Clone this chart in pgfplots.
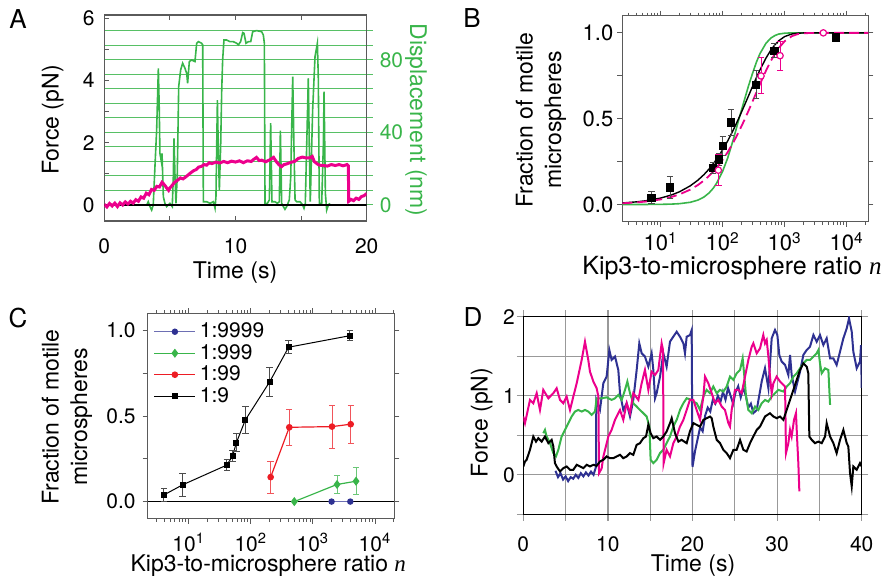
\documentclass[border=0pt]{standalone}
\usepackage{fontspec}
\setmainfont{TeX Gyre Heros}
\newfontfamily\timesit{Liberation Serif}
\usepackage{pgfplots}
\pgfplotsset{compat=1.18}
\definecolor{mag}{RGB}{236,0,140}
\definecolor{grn}{RGB}{57,181,74}
\definecolor{nvy}{RGB}{46,49,146}
\definecolor{red1}{RGB}{237,28,36}
\definecolor{frm}{RGB}{90,90,90}
\pgfplotsset{
  pan/.style={scale only axis, anchor=south west,
    /pgf/number format/assume math mode=true,
    tick label style={font=\fontsize{10.5}{12}\selectfont},
    major tick length=2.5pt, minor tick length=1.5pt,
    every tick/.style={line width=0.45pt},
  },
}
\tikzset{lab/.style={font=\fontsize{11.5}{14.2}\selectfont, inner sep=0pt, align=center}}
\begin{document}
\begin{tikzpicture}
\useasboundingbox (0,0) rectangle (443.5pt,-290.5pt);
\node[font=\fontsize{13}{15}\selectfont] at (9pt,-9.5pt) {A};
\node[font=\fontsize{13}{15}\selectfont] at (236pt,-9pt) {B};
\node[font=\fontsize{13}{15}\selectfont] at (9pt,-159pt) {C};
\node[font=\fontsize{13}{15}\selectfont] at (236.5pt,-158.5pt) {D};
% axis labels
\node[lab, rotate=90] at (26.35pt,-60pt) {Force (pN)};
\node[lab] at (117.5pt,-136.5pt) {Time (s)};
\node[lab, rotate=-90, text=grn] at (208pt,-60pt) {Displacement (nm)};
\node[lab, rotate=90] at (270.45pt,-60pt) {Fraction of motile\\microspheres};
\node[lab, font=\fontsize{12.5}{14.2}\selectfont] at (366pt,-134pt) {Kip3-to-microsphere ratio {\timesit\itshape n}};
\node[lab, rotate=90] at (33.5pt,-208.5pt) {Fraction of motile\\microspheres};
\node[lab] at (134.15pt,-283pt) {Kip3-to-microsphere ratio {\timesit\itshape n}};
\node[lab, rotate=90] at (240.85pt,-211.25pt) {Force (pN)};
\node[lab] at (346.5pt,-283pt) {Time (s)};

% ---------------- Panel A: displacement (right axis)
\begin{axis}[pan, at={(52.15pt,-110.5pt)}, width=131.2pt, height=103pt,
  xmin=0, xmax=20, ymin=-8.83, ymax=104.8,
  axis x line=none, axis y line*=right, axis line style={draw=none},
  ytick={0,8,...,96}, yticklabels={0,,,,,40,,,,,80,,},
  ymajorgrids, major grid style={grn!85, line width=0.5pt},
  tick align=outside, major tick length=3pt,
  y tick style={grn!85, line width=0.5pt},
  yticklabel style={text=grn},
]
\addplot[grn, line width=0.8pt] coordinates {
(3.23,0) (3.35,1.8) (3.48,-0.9) (3.61,-2.8) (3.73,0) (3.86,21.1) (3.99,41.4) (4.12,75.4) (4.19,52.4) (4.24,28.5) (4.35,23.9) (4.40,28.5) (4.50,4.6) (4.62,0.9) (4.75,-0.9) (5.0,0.9) (5.18,-0.9) (5.26,15.6) (5.31,36.8) (5.39,15.6) (5.46,0.9) (5.56,15.6) (5.67,65.3) (5.82,74.5) (5.97,78.2) (6.15,75.4) (6.28,72.6) (6.35,67.1) (6.48,79.1) (6.66,80.0) (6.91,79.1) (7.04,89.2) (7.17,90.1) (7.42,89.2) (7.50,88.3) (7.55,1.8) (7.80,1.8) (8.06,0.9) (8.31,1.8) (8.44,-1.8) (8.51,4.6) (8.62,57.9) (8.69,30.3) (8.77,8.3) (8.87,33.1) (8.95,63.4) (9.02,80.0) (9.12,91.0) (9.33,91.0) (9.58,90.1) (9.83,90.1) (10.09,89.2) (10.22,88.3) (10.39,90.1) (10.55,95.1) (10.65,94.7) (10.8,89.2) (10.98,90.1) (11.16,90.1) (11.31,95.6) (11.61,96.2) (11.99,95.6) (12.12,93.8) (12.2,89.2) (12.25,0.9) (12.43,0.9) (12.58,2.8) (12.68,45.1) (12.78,1.8) (13.01,1.8) (13.19,0.9) (13.34,1.8) (13.42,41.0) (13.52,0.9) (13.65,-0.9) (13.77,-2.4) (13.9,-0.9) (14.1,2.8) (14.21,15.6) (14.36,70.8) (14.46,30.3) (14.54,2.8) (14.66,1.8) (14.92,1.8) (15.12,0) (15.22,-1.8) (15.32,0.9) (15.43,34.0) (15.55,69.9) (15.63,30) (15.7,1.8) (15.88,52.4) (16.06,81.8) (16.24,89.2) (16.31,70.8) (16.39,0.9) (16.57,0.9) (16.7,34.0) (16.75,62.5) (16.85,6.4) (16.95,-2.8) (17.08,0) (17.2,0.9)
};
\end{axis}
% ---------------- Panel A: force
\begin{axis}[pan, at={(52.15pt,-110.5pt)}, width=131.2pt, height=103pt,
  xmin=0, xmax=20, ymin=-0.514, ymax=6.107,
  axis line style={frm, line width=0.6pt}, tick style={frm},
  xtick={0,5,...,20}, xticklabels={0,,10,,20}, xtick pos=both,
  ytick={0,1,...,6}, yticklabels={0,,2,,4,,6}, ytick pos=left,
  tick align=inside,
  xticklabel style={inner sep=1pt, yshift=-7.5pt}, yticklabel style={xshift=-1.3pt},
]
\addplot[black, line width=0.6pt] coordinates {(0,0) (20,0)};
\addplot[mag, line width=1.5pt] coordinates {
(0,0.02) (0.2,-0.06) (0.4,0.05) (0.6,-0.03) (0.8,0.06) (1.0,-0.05) (1.2,0.07) (1.4,0.0) (1.6,0.1) (1.8,0.03) (2.0,0.12) (2.2,0.06) (2.4,0.17) (2.6,0.12) (2.8,0.26) (3.0,0.22) (3.2,0.38) (3.4,0.33) (3.6,0.50) (3.8,0.47) (4.0,0.60) (4.2,0.58) (4.4,0.73) (4.6,0.64) (4.75,0.55) (4.9,0.47) (5.0,0.55) (5.15,0.62) (5.3,0.70) (5.45,0.76) (5.6,0.80) (5.8,0.87) (6.0,0.84) (6.2,0.90) (6.4,0.97) (6.6,1.04) (6.8,1.10) (7.0,1.14) (7.2,1.22) (7.4,1.24) (7.6,1.30) (7.8,1.28) (8.0,1.36) (8.2,1.33) (8.5,1.38) (8.8,1.35) (9.1,1.40) (9.4,1.36) (9.7,1.41) (10.0,1.38) (10.3,1.42) (10.6,1.36) (10.9,1.42) (11.2,1.40) (11.4,1.47) (11.6,1.53) (11.8,1.43) (12.0,1.44) (12.3,1.39) (12.6,1.45) (12.9,1.53) (13.1,1.40) (13.3,1.30) (13.5,1.23) (13.7,1.30) (13.9,1.32) (14.2,1.37) (14.5,1.40) (14.8,1.50) (15.1,1.54) (15.4,1.51) (15.7,1.52) (15.85,1.56) (16.0,1.40) (16.2,1.33) (16.4,1.28) (16.7,1.27) (17.0,1.25) (17.3,1.30) (17.6,1.27) (17.9,1.30) (18.2,1.26) (18.5,1.30) (18.6,1.26) (18.63,0.12) (18.8,0.18) (19.0,0.14) (19.2,0.22) (19.4,0.18) (19.6,0.27) (19.8,0.30) (20.0,0.37)
};
\end{axis}

% ---------------- Panel B
\begin{axis}[pan, xmode=log, at={(311.15pt,-110.85pt)}, width=123pt, height=103pt,
  xmin=2.4, xmax=22300, ymin=-0.1, ymax=1.1,
  axis line style={frm, line width=0.6pt}, tick style={frm},
  tick label style={font=\fontsize{11}{12}\selectfont},
  tick align=outside, xtick pos=both, ytick pos=both,
  xtick={10,100,1000,10000},
  xticklabels={10\textsuperscript{1},10\textsuperscript{2},10\textsuperscript{3},10\textsuperscript{4}},
  minor xtick={3,4,5,6,7,8,9,20,30,40,50,60,70,80,90,200,300,400,500,600,700,800,900,2000,3000,4000,5000,6000,7000,8000,9000,20000},
  ytick={0,0.25,0.5,0.75,1}, yticklabels={0.0,,0.5,,1.0},
  xticklabel style={inner sep=1pt, yshift=-1.5pt}, yticklabel style={xshift=1.5pt},
]
\addplot[grn, line width=0.8pt] coordinates {
(2.4,0.0001) (4,0.0002) (6,0.0004) (10,0.001) (15,0.0025) (20,0.005) (30,0.013) (40,0.026) (50,0.044) (60,0.067) (70,0.094) (80,0.125) (100,0.195) (120,0.27) (150,0.385) (180,0.49) (220,0.60) (260,0.69) (300,0.76) (350,0.83) (400,0.88) (500,0.94) (600,0.97) (700,0.985) (800,0.993) (1000,0.998) (1300,1.0) (3000,1.0) (22300,1.0)
};
\addplot[black, line width=0.7pt] coordinates {
(2.4,0.0092) (4,0.0153) (6,0.0228) (10,0.0377) (15,0.0561) (20,0.0740) (30,0.1090) (40,0.1426) (50,0.1749) (60,0.2061) (70,0.2360) (80,0.2649) (100,0.3193) (120,0.3697) (150,0.4384) (180,0.4996) (220,0.5710) (260,0.6321) (300,0.6846) (350,0.7398) (400,0.7853) (500,0.8538) (600,0.9005) (700,0.9323) (800,0.9539) (1000,0.9786) (1300,0.9933) (1600,0.9979) (2000,0.9995) (3000,1.0) (22300,1.0)
};
\addplot[mag, line width=0.9pt, dash pattern=on 5pt off 2.5pt] coordinates {
(2.4,0.0072) (4,0.0120) (6,0.0180) (10,0.0298) (15,0.0444) (20,0.0588) (30,0.0869) (40,0.1142) (50,0.1406) (60,0.1662) (70,0.1912) (80,0.2153) (100,0.2614) (120,0.3048) (150,0.3652) (180,0.4204) (220,0.4866) (260,0.5452) (300,0.5971) (350,0.6538) (400,0.7024) (500,0.7802) (600,0.8377) (700,0.8801) (800,0.9114) (1000,0.9517) (1300,0.9805) (1600,0.9922) (2000,0.9977) (3000,0.9999) (22300,1.0)
};
\addplot[only marks, mark=square*, mark size=1.8pt, black,
  error bars/.cd, y dir=both, y explicit,
  error bar style={black!70, line width=0.5pt},
  error mark options={rotate=90, mark size=1.6pt, black!70, line width=0.5pt}]
coordinates {
(7.06,0.039) +- (0,0.035)
(14.2,0.10) +- (0,0.065)
(69,0.212) +- (0,0.03)
(87,0.263) +- (0,0.035)
(100,0.341) +- (0,0.055)
(136,0.478) +- (0,0.075)
(345,0.698) +- (0,0.08)
(681,0.896) +- (0,0.04)
(6730,0.973) +- (0,0.02)
};
\addplot[only marks, mark=*, mark size=1.6pt, mag, mark options={fill=white, line width=0.6pt},
  error bars/.cd, y dir=both, y explicit,
  error bar style={mag, line width=0.5pt},
  error mark options={rotate=90, mark size=1.6pt, mag, line width=0.5pt}]
coordinates {
(85,0.20) +- (0,0.09)
(415,0.749) +- (0,0.105)
(841,0.867) +- (0,0.085)
(4200,1.0) +- (0,0)
};
\end{axis}

% ---------------- Panel C
\begin{axis}[pan, xmode=log, at={(73.85pt,-259.35pt)}, width=123.3pt, height=102.7pt,
  xmin=2.19, xmax=20450, ymin=-0.1, ymax=1.1,
  axis line style={frm, line width=0.6pt}, tick style={frm},
  tick align=outside, xtick pos=both, ytick pos=both,
  xtick={10,100,1000,10000},
  xticklabels={10\textsuperscript{1},10\textsuperscript{2},10\textsuperscript{3},10\textsuperscript{4}},
  minor xtick={3,4,5,6,7,8,9,20,30,40,50,60,70,80,90,200,300,400,500,600,700,800,900,2000,3000,4000,5000,6000,7000,8000,9000,20000},
  ytick={0,0.25,0.5,0.75,1}, yticklabels={0.0,,0.5,,1.0},
  xticklabel style={inner sep=1pt, yshift=-3.5pt},
  legend style={at={(axis description cs:0.015,0.985)}, anchor=north west, draw=none, fill=none,
    font=\fontsize{10.5}{11}\selectfont, row sep=-2.2pt, inner sep=1pt},
  legend cell align=left,
  legend image code/.code={\draw[mark repeat=2,mark phase=2,#1] plot coordinates {(0cm,0cm) (0.36cm,0cm) (0.72cm,0cm)};},
]
\addplot[black, line width=0.6pt, forget plot] coordinates {(2.19,0) (20450,0)};
\addplot[nvy!70, line width=0.6pt, mark=*, mark size=1.3pt, mark options={nvy, fill=nvy}] coordinates {(2000,0) (4000,0)};
\addlegendentry{1:9999}
\addplot[grn, line width=0.6pt, mark=diamond*, mark size=1.8pt, mark options={grn, fill=grn},
  error bars/.cd, y dir=both, y explicit,
  error bar style={grn!75, line width=0.5pt},
  error mark options={rotate=90, mark size=1.6pt, grn!75, line width=0.5pt}]
coordinates {(502,0) +- (0,0) (2450,0.1) +- (0,0.05) (4950,0.119) +- (0,0.078)};
\addlegendentry{1:999}
\addplot[red1, line width=0.6pt, mark=*, mark size=1.35pt, mark options={red1, fill=red1},
  error bars/.cd, y dir=both, y explicit,
  error bar style={red1!75, line width=0.5pt},
  error mark options={rotate=90, mark size=1.6pt, red1!75, line width=0.5pt}]
coordinates {(209,0.143) +- (0,0.093) (417,0.434) +- (0,0.104) (2032,0.438) +- (0,0.125) (4063,0.452) +- (0,0.112)};
\addlegendentry{1:99}
\addplot[black, line width=0.5pt, mark=square*, mark size=1.2pt, mark options={black, fill=black},
  error bars/.cd, y dir=both, y explicit,
  error bar style={black!70, line width=0.5pt},
  error mark options={rotate=90, mark size=1.6pt, black!70, line width=0.5pt}]
coordinates {(4,0.039) +- (0,0.037) (8,0.098) +- (0,0.068) (41,0.213) +- (0,0.03) (51,0.266) +- (0,0.033) (58.6,0.344) +- (0,0.053) (81.8,0.477) +- (0,0.078) (201,0.699) +- (0,0.084) (407,0.902) +- (0,0.038) (3918,0.969) +- (0,0.028)};
\addlegendentry{1:9}
\end{axis}

% ---------------- Panel D
\begin{axis}[pan, at={(261.65pt,-257.15pt)}, width=169.2pt, height=98.8pt,
  xmin=0, xmax=40, ymin=-0.5, ymax=2,
  axis line style={black, line width=0.6pt},
  tick align=outside, xtick pos=both, ytick pos=both, major tick length=3.2pt,
  xtick={0,5,...,40}, xticklabels={0,,10,,20,,30,,40},
  ytick={-0.5,0,0.5,1,1.5,2}, yticklabels={,0,,1,,2},
  grid=major, major grid style={black!40, line width=0.6pt},
  tick style={black!40, line width=0.6pt},
  xticklabel style={inner sep=1pt, yshift=-7pt}, yticklabel style={xshift=2.5pt},
]
\addplot[nvy, line width=1pt] coordinates {
(3.8,0.05) (4.1,-0.03) (4.4,0.02) (4.7,-0.06) (5.0,-0.02) (5.3,-0.08) (5.6,-0.03) (5.9,-0.05) (6.2,0.0) (6.5,-0.04) (6.8,0.02) (7.1,-0.02) (7.4,0.03) (7.7,-0.01) (8.0,0.04) (8.3,0.0) (8.59,0.10) (8.63,0.947) (9.06,0.82) (9.46,1.158) (9.85,1.242) (10.17,1.579) (10.44,1.453) (10.84,1.495) (11.23,1.326) (11.43,1.032) (11.82,0.82) (12.22,0.905) (12.61,0.737) (13.0,0.947) (13.4,1.326) (13.71,1.663) (13.99,1.537) (14.38,1.495) (14.78,1.368) (15.17,1.537) (15.37,1.326) (15.57,0.968) (15.76,1.032) (16.16,1.242) (16.55,1.537) (16.94,1.368) (17.34,1.684) (17.73,1.747) (18.13,1.81) (18.52,1.747) (18.92,1.663) (19.11,1.537) (19.31,1.747) (19.7,1.768) (19.9,1.83) (20.0,0.1) (20.3,0.3) (20.6,0.45) (20.9,0.6) (21.2,0.55) (21.5,0.75) (21.8,0.85) (22.1,0.8) (22.4,0.95) (22.7,0.9) (23.0,1.0) (23.3,0.92) (23.6,1.05) (23.9,0.95) (24.2,1.1) (24.5,1.0) (24.8,0.9) (25.1,1.05) (25.4,1.12) (25.7,0.98) (26.0,1.1) (26.3,1.0) (26.6,0.85) (26.9,0.9) (27.2,0.78) (27.59,0.82) (28.18,1.18) (28.57,1.347) (28.97,1.095) (29.36,1.726) (29.75,1.832) (30.03,1.768) (30.26,1.516) (30.54,1.432) (30.94,1.39) (31.33,1.263) (31.53,1.516) (31.72,1.263) (32.12,1.053) (32.32,1.137) (32.71,1.305) (33.1,1.516) (33.5,1.579) (33.89,1.621) (34.29,1.768) (34.68,1.684) (35.07,1.768) (35.47,1.642) (35.86,1.726) (36.26,1.474) (36.65,1.474) (37.04,1.39) (37.44,1.558) (37.83,1.726) (38.23,1.853) (38.5,1.979) (38.82,1.811) (39.01,1.558) (39.41,1.347) (39.8,1.432) (39.92,1.64) (40.0,1.1)
};
\addplot[grn, line width=1pt] coordinates {
(2.36,0.526) (2.56,0.568) (2.76,0.484) (3.15,0.4) (3.55,0.274) (3.86,0.232) (4.14,0.316) (4.53,0.484) (4.93,0.568) (5.32,0.653) (5.71,0.737) (6.11,0.8) (6.5,0.82) (6.9,0.8) (7.29,0.82) (7.68,0.8) (8.08,0.758) (8.47,0.8) (8.67,0.968) (9.26,0.968) (9.85,0.98) (10.44,0.947) (10.84,0.968) (11.23,1.01) (11.63,0.947) (12.02,1.074) (12.3,1.18) (12.61,1.032) (13.0,0.905) (13.4,0.863) (13.79,0.82) (14.19,0.779) (14.58,0.737) (14.9,0.61) (15.05,0.19) (15.37,0.147) (15.76,0.19) (16.16,0.274) (16.55,0.316) (16.94,0.4) (17.34,0.484) (17.73,0.61) (18.13,0.695) (18.52,0.82) (18.92,0.905) (19.31,0.968) (19.9,0.947) (20.1,0.926) (20.49,0.905) (20.89,0.82) (21.28,0.989) (21.67,1.074) (22.07,1.032) (22.46,1.116) (22.86,1.032) (23.25,1.074) (23.65,1.053) (24.04,1.116) (24.43,1.242) (24.83,1.2) (25.22,1.284) (25.62,1.326) (25.93,1.474) (26.13,1.242) (26.33,0.989) (26.6,0.82) (27.0,0.779) (27.39,0.863) (27.78,0.82) (28.18,0.905) (28.57,0.947) (28.97,0.926) (29.36,0.989) (29.75,1.032) (30.15,1.074) (30.74,1.053) (31.13,1.116) (31.53,1.158) (31.92,1.242) (32.32,1.284) (32.71,1.347) (33.1,1.41) (33.5,1.453) (33.89,1.453) (34.29,1.495) (34.68,1.537) (34.88,1.579) (35.07,1.41) (35.27,1.284) (35.67,1.347) (36.06,1.326) (36.26,0.884)
};
\addplot[mag, line width=1pt] coordinates {
(0.0,0.737) (0.2,0.653) (0.79,0.947) (1.18,0.905) (1.58,1.032) (1.97,0.82) (2.36,1.074) (2.96,0.968) (3.55,1.032) (3.94,1.095) (4.34,0.947) (4.73,0.905) (5.12,0.989) (5.52,0.82) (5.91,0.989) (6.31,1.158) (6.9,1.453) (7.29,1.684) (7.68,1.453) (7.88,1.305) (8.28,1.18) (8.67,1.095) (8.87,0.99) (8.95,0.02) (9.26,0.08) (9.46,0.23) (10.05,0.484) (10.44,0.568) (10.84,0.695) (11.43,0.82) (11.82,0.695) (12.22,0.905) (12.61,0.779) (13.0,1.032) (13.6,0.947) (13.99,1.158) (14.38,1.326) (14.78,1.074) (15.17,1.305) (15.57,1.263) (15.96,1.326) (16.35,1.663) (16.51,1.58) (16.59,0.147) (16.94,0.316) (17.34,0.232) (17.73,0.4) (18.13,0.484) (18.52,0.61) (18.92,0.695) (19.31,0.82) (19.7,0.95) (20.1,0.947) (20.49,0.82) (20.89,0.695) (21.28,0.989) (21.48,1.242) (21.87,1.158) (22.27,1.032) (22.66,0.905) (23.05,0.947) (23.45,0.863) (23.84,0.82) (24.24,0.653) (24.43,0.61) (24.63,0.82) (25.02,1.074) (25.42,1.074) (25.81,1.032) (26.21,1.242) (26.6,1.453) (27.0,1.62) (27.19,1.663) (27.59,1.537) (27.98,1.6) (28.37,1.768) (28.57,1.663) (28.77,1.705) (28.97,1.495) (29.16,1.242) (29.36,1.032) (29.56,1.158) (29.95,1.242) (30.34,1.18) (30.74,1.137) (30.94,1.116) (31.05,0.274) (31.33,0.4) (31.53,0.568) (31.72,0.484) (32.0,0.695) (32.23,0.779) (32.39,0.4) (32.51,0.147) (32.63,-0.21)
};
\addplot[black, line width=1pt] coordinates {
(0.0,0.105) (0.2,0.168) (0.39,0.19) (0.79,0.316) (1.18,0.484) (1.5,0.42) (1.77,0.463) (2.17,0.42) (2.56,0.484) (2.96,0.4) (3.35,0.442) (3.55,0.358) (3.74,0.147) (3.94,0.105) (4.34,0.042) (4.73,0.084) (5.12,0.105) (5.52,0.063) (5.91,0.063) (6.31,0.126) (6.7,0.105) (7.09,0.084) (7.49,0.126) (7.88,0.105) (8.28,0.126) (8.67,0.113) (9.06,0.168) (9.46,0.19) (9.85,0.232) (10.25,0.21) (10.64,0.21) (11.03,0.232) (11.43,0.253) (11.82,0.21) (12.22,0.232) (12.61,0.274) (13.0,0.253) (13.4,0.379) (13.79,0.4) (14.19,0.463) (14.5,0.484) (14.78,0.632) (15.05,0.526) (15.37,0.463) (15.76,0.484) (16.16,0.442) (16.55,0.484) (16.94,0.547) (17.34,0.653) (17.54,0.716) (17.93,0.526) (18.33,0.42) (18.72,0.442) (19.31,0.4) (19.7,0.55) (20.1,0.653) (20.49,0.632) (20.89,0.61) (21.28,0.695) (21.67,0.716) (22.07,0.737) (22.27,0.716) (22.46,0.61) (22.86,0.442) (23.25,0.4) (23.65,0.316) (24.04,0.274) (24.43,0.21) (24.83,0.316) (25.22,0.316) (25.62,0.442) (26.01,0.316) (26.4,0.295) (26.8,0.4) (27.19,0.484) (27.59,0.568) (27.98,0.61) (28.18,0.653) (28.57,0.737) (29.16,0.779) (29.56,0.737) (29.95,0.716) (30.34,0.737) (30.74,0.695) (31.13,0.82) (31.53,0.947) (31.92,1.074) (32.32,1.2) (32.71,1.326) (33.1,1.41) (33.5,1.368) (33.69,1.284) (33.81,0.484) (34.09,0.442) (34.48,0.4) (34.88,0.42) (35.27,0.4) (35.67,0.484) (35.86,0.653) (36.26,0.484) (36.65,0.4) (37.04,0.274) (37.44,0.442) (37.83,0.568) (38.23,0.4) (38.42,0.358) (38.62,0.021) (38.82,-0.147) (39.01,0.105) (39.41,0.063) (39.8,0.147) (40.0,0.105)
};
\end{axis}
\end{tikzpicture}
\end{document}
